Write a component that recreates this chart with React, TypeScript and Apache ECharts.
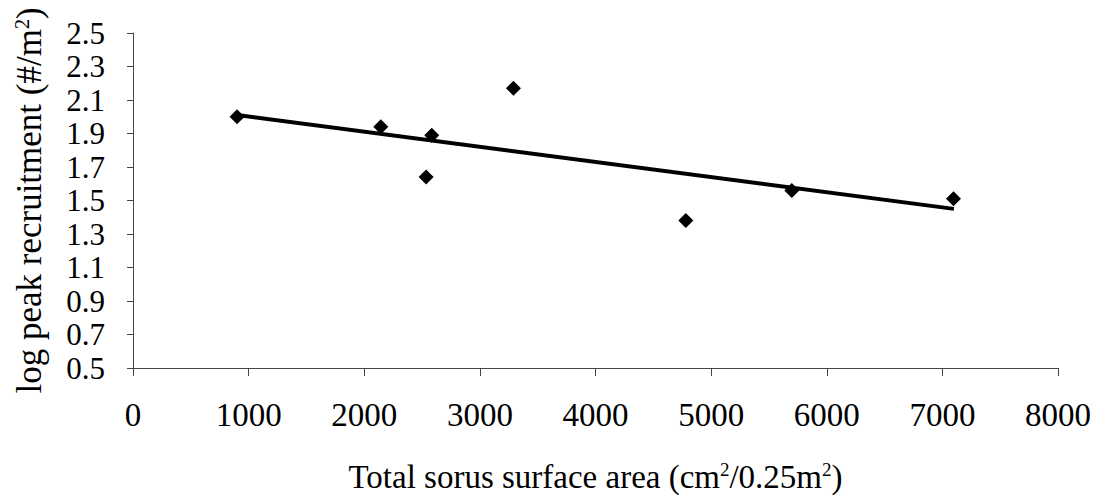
import React, { useEffect, useRef } from "react";
import * as echarts from "echarts";

const sorusArea = [900, 2143, 2535, 2584, 3290, 4781, 5698, 7096];
const logRecruitment = [2.0, 1.94, 1.64, 1.89, 2.17, 1.38, 1.56, 1.51];
const trendX = [900, 7100];
const trendY = [2.01, 1.45];

const FONT = "Liberation Serif";

export default function App() {
  const ref = useRef<HTMLDivElement>(null);
  useEffect(() => {
    if (!ref.current) return;
    const chart = echarts.init(ref.current, undefined, { renderer: "svg" });
    chart.setOption({
      animation: false,
      backgroundColor: "#ffffff",
      grid: { left: 133, right: 40, top: 33, bottom: 136, containLabel: false },
      xAxis: {
        type: "value",
        min: 0,
        max: 8000,
        interval: 1000,
        splitLine: { show: false },
        axisLine: { show: true, lineStyle: { color: "#444", width: 1 } },
        axisTick: { show: true, inside: false, length: 8, lineStyle: { color: "#444" } },
        axisLabel: {
          color: "#000",
          fontFamily: FONT,
          fontSize: 33,
          margin: 30,
          formatter: (v: number) => String(v),
        },
        name: "Total sorus surface area (cm{sup|2}/0.25m{sup|2})",
        nameLocation: "middle",
        nameGap: 92,
        nameTextStyle: {
          color: "#000",
          fontFamily: FONT,
          fontSize: 33,
          rich: {
            sup: { fontFamily: FONT, fontSize: 19, color: "#000", verticalAlign: "top", padding: [0, 0, 14, 0] },
          },
        },
      },
      yAxis: {
        type: "value",
        min: 0.5,
        max: 2.5,
        interval: 0.2,
        splitLine: { show: false },
        axisLine: { show: true, lineStyle: { color: "#444", width: 1 } },
        axisTick: { show: true, inside: false, length: 6, lineStyle: { color: "#444" } },
        axisLabel: {
          color: "#000",
          fontFamily: FONT,
          fontSize: 31,
          margin: 28,
          formatter: (v: number) => v.toFixed(1),
        },
        name: "log peak recruitment (#/m{sup|2})",
        nameLocation: "middle",
        nameRotate: 90,
        nameGap: 86,
        nameTextStyle: {
          color: "#000",
          fontFamily: FONT,
          fontSize: 35,
          rich: {
            sup: { fontFamily: FONT, fontSize: 20, color: "#000", verticalAlign: "top", padding: [0, 0, 14, 0] },
          },
        },
      },
      series: [
        {
          type: "line",
          data: trendX.map((x, i) => [x, trendY[i]]),
          showSymbol: false,
          symbol: "none",
          lineStyle: { color: "#000", width: 4 },
          z: 2,
        },
        {
          type: "scatter",
          data: sorusArea.map((x, i) => [x, logRecruitment[i]]),
          symbol: "diamond",
          symbolSize: 15,
          itemStyle: { color: "#000", opacity: 1 },
          z: 3,
        },
      ],
    });
    return () => chart.dispose();
  }, []);
  return (
    <div
      ref={ref}
      style={{ position: "fixed", left: 0, top: 0, width: 1098, height: 504, background: "#fff" }}
    />
  );
}
